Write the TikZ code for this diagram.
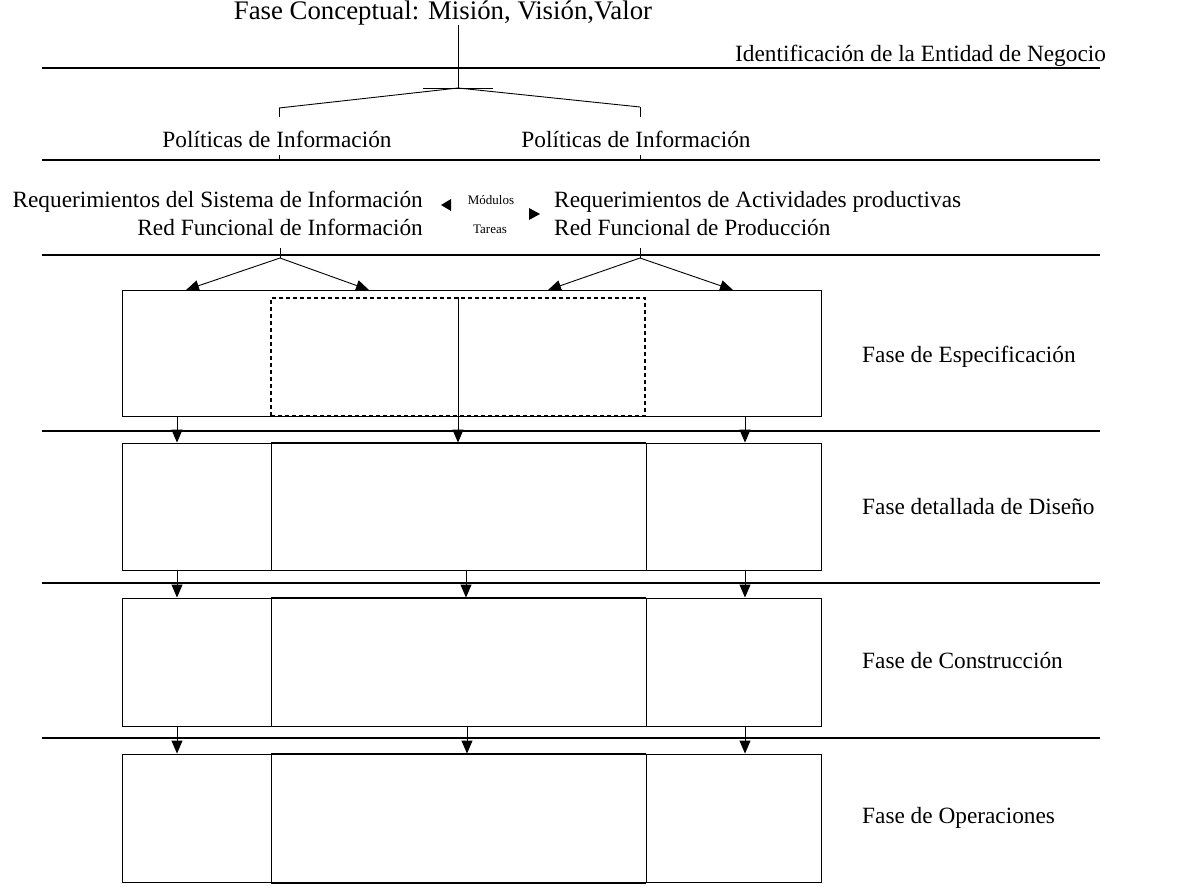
\documentclass[tikz,border=0pt]{standalone}
\usepackage{fontspec}
\setmainfont{Liberation Serif}
\usetikzlibrary{arrows.meta}

\begin{document}
\begin{tikzpicture}[x=1pt,y=-1pt,
  sep/.style={line width=1.1pt},
  ln/.style={line width=0.9pt},
  arr/.style={line width=0.9pt,-{Triangle[width=11pt,length=13pt]}},
  phase/.style={draw,line width=0.9pt,inner sep=0pt,minimum width=699pt,minimum height=#1},
  core/.style={draw,line width=0.9pt,inner sep=0pt,minimum width=375pt,minimum height=#1},
  dashcore/.style={draw,dashed,dash pattern=on 4pt off 3pt,line width=1.3pt,inner sep=0pt,minimum width=374pt,minimum height=#1},
  title/.style={font=\fontsize{26.8}{30}\selectfont,inner sep=0pt},
  mid/.style={font=\fontsize{23.3}{27}\selectfont,inner sep=0pt},
  small/.style={font=\fontsize{13}{15}\selectfont,inner sep=0pt}]

\useasboundingbox (0,0) rectangle (1185,891);

% --- concept level ---
\node[title,anchor=base] (concept) at (443,20) {Fase Conceptual: Misión, Visión,Valor};
\coordinate (root) at (458,25);
\coordinate (fork) at (458,88);
\coordinate (barL) at (423,88);
\coordinate (barR) at (493,88);
\draw[ln] (root) -- (fork);
\draw[ln] (barL) -- (barR);

% separators
\foreach \n/\y in {s1/68,s2/160,s3/255,s4/431,s5/583,s6/738}{
  \coordinate (\n w) at (42,\y);
  \coordinate (\n e) at (1100,\y);
  \draw[sep] (\n w) -- (\n e);
}
\node[mid,anchor=base west] (entity) at (735,62) {Identificación de la Entidad de Negocio};

% --- information policies ---
\coordinate (polLt) at (279,108);
\coordinate (polRt) at (640,107);
\coordinate (polLb) at (279,117);
\coordinate (polRb) at (640,117);
\draw[ln] (polLt) -- (fork) -- (polRt);
\draw[ln] (polLt) -- (polLb);
\draw[ln] (polRt) -- (polRb);
\node[mid,anchor=base] (polL) at (277,147) {Políticas de Información};
\node[mid,anchor=base] (polR) at (636,147) {Políticas de Información};
\coordinate (tkL) at (279,155);
\coordinate (tkR) at (640,155);
\draw[ln] (tkL) -- (tkL |- s2w);
\draw[ln] (tkR) -- (tkR |- s2w);

% --- requirements ---
\node[mid,anchor=base east] (reqL1) at (423,207) {Requerimientos del Sistema de Información};
\node[mid,anchor=base east] (reqL2) at (423,235) {Red Funcional de Información};
\node[mid,anchor=base west] (reqR1) at (554,207) {Requerimientos de Actividades productivas};
\node[mid,anchor=base west] (reqR2) at (554,235) {Red Funcional de Producción};
\node[small,anchor=base] (mods) at (491,204) {Módulos};
\node[small,anchor=base] (tasks) at (490,233) {Tareas};
\fill (451,199) -- (441,205) -- (451,211) -- cycle;
\fill (529,208) -- (540,214) -- (529,220) -- cycle;

% --- phase boxes ---
\node[phase=126pt] (spec) at (471.5,353) {};
\node[phase=127pt] (dis) at (471.5,506.5) {};
\node[phase=128pt] (con) at (471.5,662) {};
\node[phase=128pt] (ope) at (471.5,818) {};

\node[dashcore=118pt] (specC) at (458,357) {};
\node[core=127pt] (disC) at (458.5,506.5) {};
\node[core=128pt] (conC) at (458.5,662) {};
\node[core=128pt] (opeC) at (458.5,818.5) {};
\draw[line width=2pt] (disC.north west) -- (disC.north east);
\draw[line width=2pt] (conC.north west) -- (conC.north east);
\draw[line width=1.8pt] (opeC.north west) -- (opeC.north east);
\draw[line width=1.8pt] (opeC.south west) -- (opeC.south east);

\node[mid,anchor=base west] (lspec) at (862,362) {Fase de Especificación};
\node[mid,anchor=base west] (ldis) at (862,514) {Fase detallada de Diseño};
\node[mid,anchor=base west] (lcon) at (862,668) {Fase de Construcción};
\node[mid,anchor=base west] (lope) at (862,823) {Fase de Operaciones};

% --- requirements feed the specification ---
\coordinate (hubL) at (280,258);
\coordinate (hubR) at (640,258);
\draw[ln] (280,248) -- (hubL);
\draw[ln] (640,248) -- (hubR);
\coordinate (inA) at (186,290);
\coordinate (inB) at (369,290);
\coordinate (inC) at (548,290);
\coordinate (inD) at (733,290);
\draw[arr] (hubL) -- (inA);
\draw[arr] (hubL) -- (inB);
\draw[arr] (hubR) -- (inC);
\draw[arr] (hubR) -- (inD);

% --- flow between phases ---
\coordinate (colL) at (177,0);
\coordinate (colR) at (745,0);
\coordinate (colM1) at (458,0);
\coordinate (colM2) at (466,0);
\coordinate (colM3) at (467,0);
\foreach \a/\b in {spec/dis,dis/con,con/ope}{
  \draw[arr] (\a.south -| colL) -- (\b.north -| colL);
  \draw[arr] (\a.south -| colR) -- (\b.north -| colR);
}
\draw[arr] (specC.north -| colM1) -- (dis.north -| colM1);
\draw[arr] (dis.south -| colM2) -- (con.north -| colM2);
\draw[arr] (con.south -| colM3) -- (ope.north -| colM3);
\end{tikzpicture}
\end{document}
